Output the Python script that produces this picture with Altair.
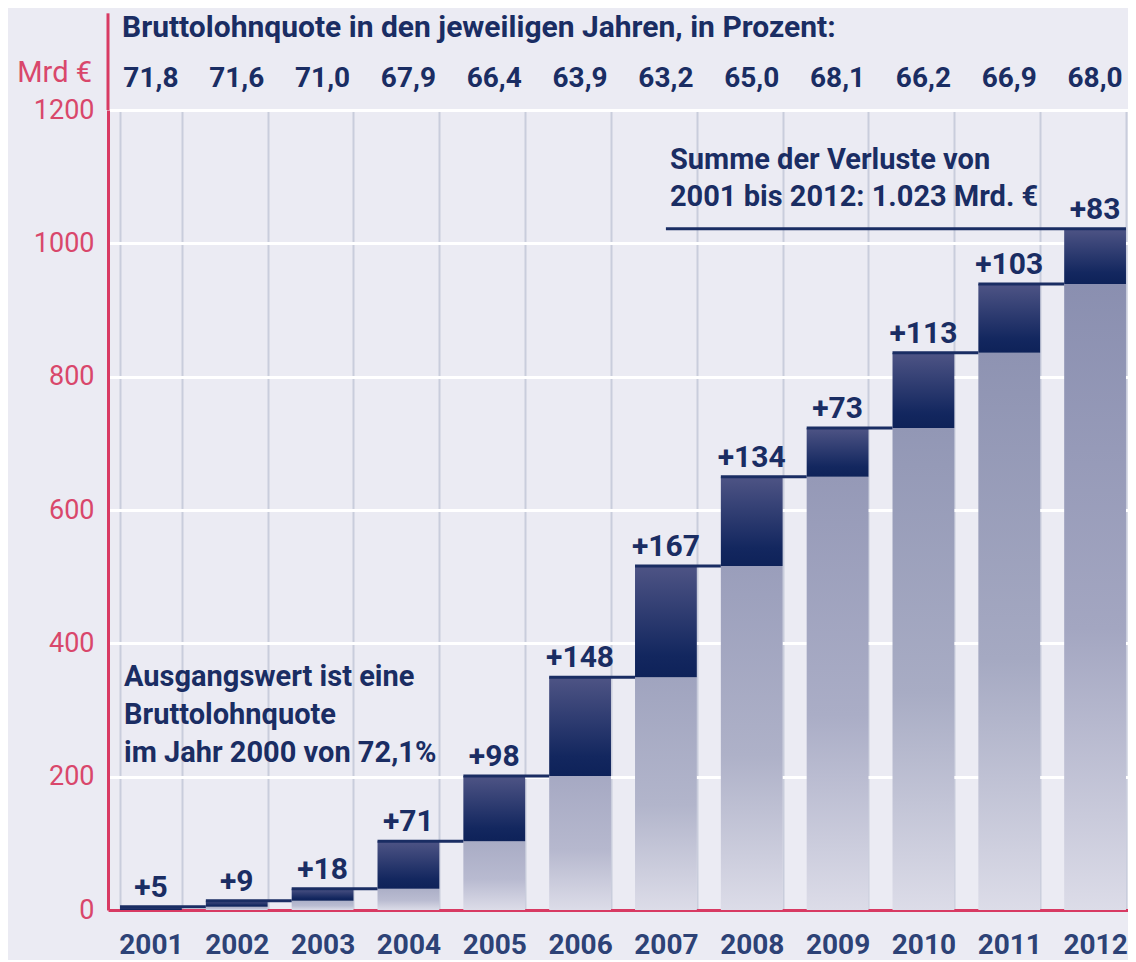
import altair as alt
import pandas as pd

# ---- data ----
years = ["2001", "2002", "2003", "2004", "2005", "2006", "2007", "2008", "2009", "2010", "2011", "2012"]
losses = [5, 9, 18, 71, 98, 148, 167, 134, 73, 113, 103, 83]
quotes = ["71,8", "71,6", "71,0", "67,9", "66,4", "63,9", "63,2", "65,0", "68,1", "66,2", "66,9", "68,0"]
y_ticks = [0, 200, 400, 600, 800, 1000, 1200]
header_text = "Bruttolohnquote in den jeweiligen Jahren, in Prozent:"
unit_text = "Mrd €"
note_sum = ["Summe der Verluste von", "2001 bis 2012: 1.023 Mrd. €"]
note_base = ["Ausgangswert ist eine", "Bruttolohnquote", "im Jahr 2000 von 72,1%"]

# ---- styles ----
FONT = "Roboto, Liberation Sans, sans-serif"
NAVY = "#1a2d63"
YEAR_COL = "#2d4276"
RED = "#d83a63"
RED_LBL = "#d9476b"
BG = "#ebebf3"
VGRID = "#c9cddc"

cum = []
s = 0
for v in losses:
    s += v
    cum.append(s)
prev = [c - v for c, v in zip(cum, losses)]

df = pd.DataFrame({
    "year": years,
    "loss": losses,
    "cum": cum,
    "prev": prev,
    "zero": [0] * len(years),
    "label": ["+" + str(v) for v in losses],
    "quote": quotes,
})
df_conn = pd.DataFrame({"year": years[:-1], "next": years[1:], "cum": cum[:-1]})

xscale = alt.Scale(domain=years, paddingInner=0.28, paddingOuter=0.14)
yscale = alt.Scale(domain=[0, 1200])

xaxis = alt.Axis(title=None, tickBand="extent", grid=True, gridColor=VGRID, gridWidth=2,
                 ticks=False, domainColor=RED, domainWidth=3, labelFont=FONT,
                 labelFontSize=28, labelFontWeight="bold", labelColor=YEAR_COL,
                 labelPadding=21, labelAngle=0)
yaxis = alt.Axis(title=None, values=y_ticks, format="d", grid=True, gridColor="#ffffff",
                 gridWidth=3, ticks=False, domainColor=RED, domainWidth=3, labelFont=FONT,
                 labelFontSize=27, labelFontWeight="normal", labelColor=RED_LBL,
                 labelPadding=14)


def X(**kw):
    return alt.X("year:N", sort=years, scale=xscale, axis=xaxis, **kw)


def Y(field):
    return alt.Y(field, type="quantitative", scale=yscale, axis=yaxis)


def hexmix(a, b, t):
    a = [int(a[i:i + 2], 16) for i in (1, 3, 5)]
    b = [int(b[i:i + 2], 16) for i in (1, 3, 5)]
    return "#" + "".join("%02x" % round(x + (y - x) * t) for x, y in zip(a, b))


LIGHT_LOW = "#adb0c8"
LIGHT_HIGH = "#888dae"
LIGHT_BOTTOM = "#dcdce8"

layers = []
base = alt.Chart(df)

# light parts (losses of earlier years), one gradient per bar
for i, yr in enumerate(years):
    if prev[i] <= 0:
        continue
    top = hexmix(LIGHT_LOW, LIGHT_HIGH, min(prev[i] / 1000.0, 1.0))
    mid = hexmix(top, LIGHT_BOTTOM, 0.3)
    grad = alt.Gradient(gradient="linear", x1=0, x2=0, y1=0, y2=1,
                        stops=[alt.GradientStop(color=top, offset=0),
                               alt.GradientStop(color=mid, offset=0.55),
                               alt.GradientStop(color=LIGHT_BOTTOM, offset=1)])
    layers.append(
        alt.Chart(df[df["year"] == yr]).mark_bar(color=grad).encode(
            x=X(), y=Y("zero"), y2="prev"
        )
    )

dark_grad = alt.Gradient(gradient="linear", x1=0, x2=0, y1=0, y2=1,
                         stops=[alt.GradientStop(color="#4e5485", offset=0),
                                alt.GradientStop(color="#13275f", offset=0.8),
                                alt.GradientStop(color="#0e2259", offset=1)])
dark = base.mark_bar(color=dark_grad).encode(x=X(), y=Y("prev"), y2="cum")
layers.append(dark)

# connectors
conn = alt.Chart(df_conn).mark_rule(color=NAVY, strokeWidth=3).encode(
    x=X(bandPosition=0),
    x2=alt.X2("next:N", bandPosition=0),
    y=Y("cum"),
)
layers.append(conn)

# total line
total_line = alt.Chart(df[df["year"] == years[-1]]).mark_rule(color=NAVY, strokeWidth=3).encode(
    x=alt.X(datum="2007", scale=xscale, axis=xaxis),
    x2=alt.X2(datum="2012", bandPosition=1),
    y=Y("cum"),
)
layers.append(total_line)

# value labels
labels = base.mark_text(font=FONT, fontSize=30, fontWeight="bold", color=NAVY,
                        baseline="bottom", dy=-4).encode(
    x=X(), y=Y("cum"), text="label:N"
)
layers.append(labels)

# percentage row
quote_txt = base.mark_text(font=FONT, fontSize=28, fontWeight="bold", color=NAVY,
                           baseline="alphabetic").encode(
    x=X(), y=alt.Y(datum=1234, scale=yscale, axis=yaxis), text="quote:N"
)
layers.append(quote_txt)

one = pd.DataFrame({"k": [0]})
header = alt.Chart(one).mark_text(font=FONT, fontSize=30, fontWeight="bold", color=NAVY,
                                  align="left", baseline="alphabetic", dx=2).encode(
    x=alt.X(datum="2001", bandPosition=0, scale=xscale, axis=xaxis),
    y=alt.Y(datum=1309, scale=yscale, axis=yaxis),
    text=alt.value(header_text),
)
layers.append(header)

unit = alt.Chart(one).mark_text(font=FONT, fontSize=29, fontWeight="normal", color=RED_LBL,
                                align="right", baseline="alphabetic").encode(
    x=alt.value(-16),
    y=alt.Y(datum=1242, scale=yscale, axis=yaxis),
    text=alt.value(unit_text),
)
layers.append(unit)

axis_ext = alt.Chart(one).mark_rule(color=RED, strokeWidth=3).encode(
    x=alt.value(0),
    y=alt.Y(datum=1200, scale=yscale, axis=yaxis),
    y2=alt.Y2(datum=1345),
)
layers.append(axis_ext)

sum_note = alt.Chart(one).mark_text(font=FONT, fontSize=29, fontWeight="bold", color=NAVY,
                                    align="left", baseline="middle", lineHeight=37, dx=4).encode(
    x=alt.X(datum="2007", scale=xscale, axis=xaxis),
    y=alt.Y(datum=1125, scale=yscale, axis=yaxis),
    text=alt.value(note_sum),
)
layers.append(sum_note)

base_note = alt.Chart(one).mark_text(font=FONT, fontSize=29, fontWeight="bold", color=NAVY,
                                     align="left", baseline="middle", lineHeight=38, dx=4).encode(
    x=alt.X(datum="2001", bandPosition=0, scale=xscale, axis=xaxis),
    y=alt.Y(datum=349, scale=yscale, axis=yaxis),
    text=alt.value(note_base),
)
layers.append(base_note)

chart = alt.layer(*layers).properties(
    width=1030, height=800,
    autosize=alt.AutoSizeParams(type="none"),
    padding={"left": 100, "top": 102, "right": -10, "bottom": 50},
    background=BG,
).configure_view(stroke=None, fill=BG)

chart.save("out.html", embed_options={"renderer": "svg", "actions": False})
